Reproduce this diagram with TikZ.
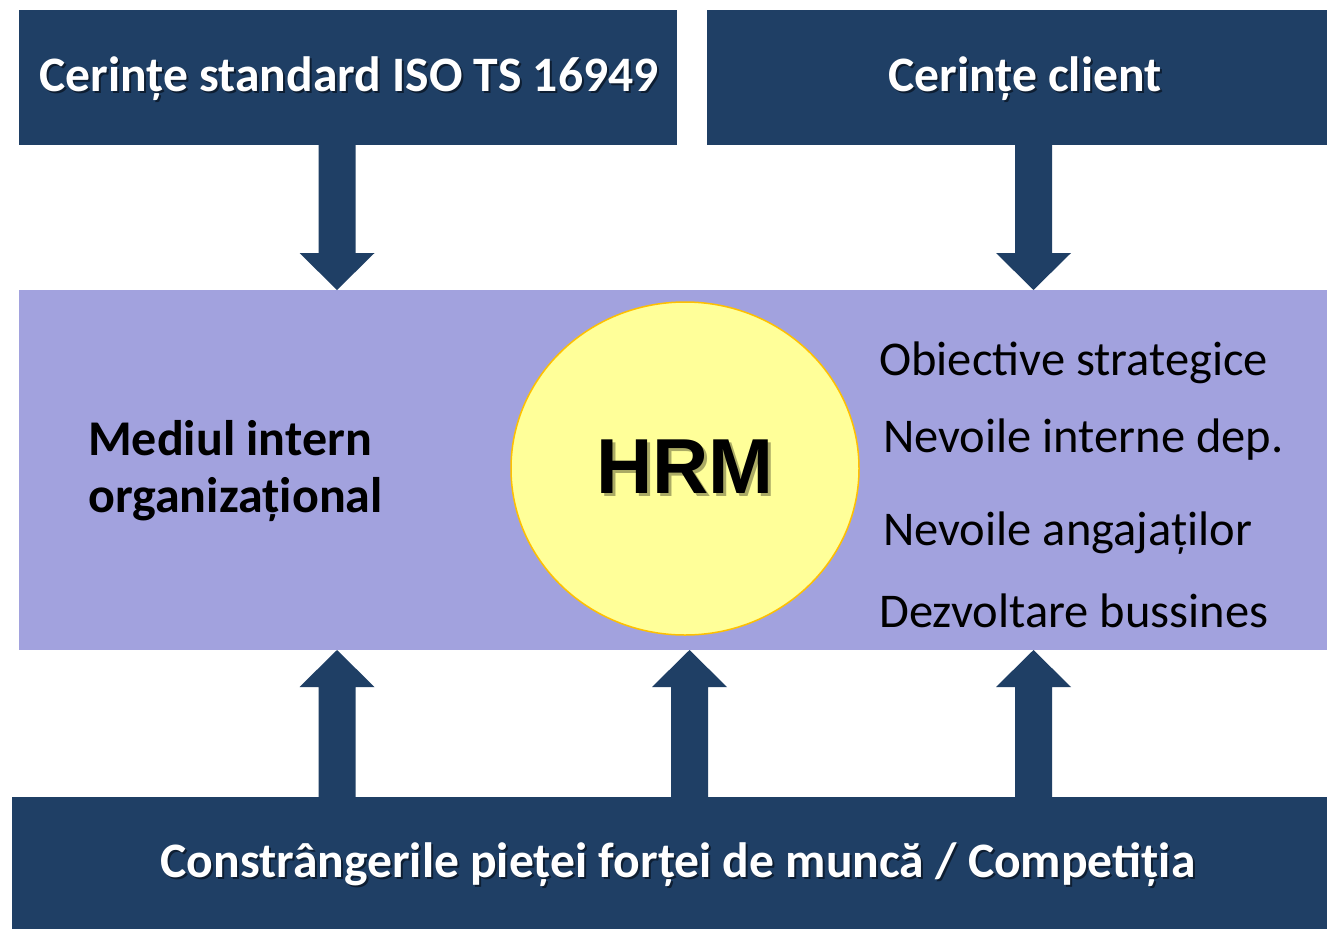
\documentclass[tikz,border=0pt]{standalone}
\usepackage{fontspec}
\setmainfont{Carlito}
\newfontfamily\arialf{Liberation Sans}
\usetikzlibrary{calc,shapes.geometric}
\definecolor{navy}{RGB}{31,63,101}
\definecolor{lav}{RGB}{162,162,222}
\definecolor{lyellow}{RGB}{255,255,153}
\definecolor{gold}{RGB}{255,192,0}
\definecolor{navyshadow}{RGB}{14,30,50}
\definecolor{yshadow}{RGB}{170,170,100}
\newcommand{\shtext}[3]{\rlap{\hspace{#3}\raisebox{-#3}{\color{#2}#1}}#1}
\tikzset{
  whitetxt/.style={text=white, font=\fontsize{49.6}{56}\selectfont\bfseries, inner sep=0pt},
  righttxt/.style={anchor=base west, font=\fontsize{48.5}{54}\selectfont, inner sep=0pt},
  blockarrow/.style={fill=navy, draw=none},
}
\newcommand{\downarrowblk}[2]{%
  \fill[blockarrow] ($(#1)+(-18.5,0)$) -- ($(#2)+(-18.5,-37)$) -- ($(#2)+(-37.5,-37)$) -- (#2) -- ($(#2)+(37.5,-37)$) -- ($(#2)+(18.5,-37)$) -- ($(#1)+(18.5,0)$) -- cycle;}
\newcommand{\uparrowblk}[2]{%
  \fill[blockarrow] ($(#1)+(-18.5,0)$) -- ($(#2)+(-18.5,37)$) -- ($(#2)+(-37.5,37)$) -- (#2) -- ($(#2)+(37.5,37)$) -- ($(#2)+(18.5,37)$) -- ($(#1)+(18.5,0)$) -- cycle;}
\begin{document}
\begin{tikzpicture}[x=1pt,y=-1pt]
\useasboundingbox (0,0) rectangle (1327,929);
\fill[white] (0,0) rectangle (1327,929);
% boxes
\fill[navy] (19,10) rectangle (677,145);
\fill[navy] (707,10) rectangle (1327,145);
\fill[lav] (19,290) rectangle (1327,650);
\fill[navy] (12,797) rectangle (1327,929);
% texts on navy
\node[whitetxt] (tA) at (349,80) {\shtext{Cerințe standard ISO TS 16949}{navyshadow}{2pt}};
\node[whitetxt] (tB) at (1025,80) {\shtext{Cerințe client}{navyshadow}{2pt}};
\node[whitetxt] (tC) at (678,866) {\shtext{Constrângerile pieței forței de muncă / Competiția}{navyshadow}{2pt}};
% arrows
\coordinate (d1s) at (337,145); \coordinate (d1e) at (337,290);
\coordinate (d2s) at (1033.5,145); \coordinate (d2e) at (1033.5,290);
\coordinate (u1s) at (337,797); \coordinate (u1e) at (337,650);
\coordinate (u2s) at (689.5,797); \coordinate (u2e) at (689.5,650);
\coordinate (u3s) at (1033.5,797); \coordinate (u3e) at (1033.5,650);
\downarrowblk{d1s}{d1e}
\downarrowblk{d2s}{d2e}
\uparrowblk{u1s}{u1e}
\uparrowblk{u2s}{u2e}
\uparrowblk{u3s}{u3e}
% circle
\node[ellipse, fill=lyellow, draw=gold, line width=1.5pt, minimum width=348pt, minimum height=333pt, inner sep=0pt] (hrm) at (685,468.5) {};
\node[font=\arialf\fontsize{78}{80}\selectfont\bfseries, inner sep=0pt] (hrmt) at (hrm) {\shtext{HRM}{yshadow}{3pt}};
% left text
\node[anchor=base west, font=\fontsize{50}{57}\selectfont\bfseries, inner sep=0pt, align=left] (med) at (88,512) {Mediul intern\\organizațional};
% right texts
\node[righttxt] (r1) at (879,375) {Obiective strategice};
\node[righttxt] (r2) at (883,452) {Nevoile interne dep.};
\node[righttxt] (r3) at (883,545) {Nevoile angajaților};
\node[righttxt] (r4) at (879,627) {Dezvoltare bussines};
\end{tikzpicture}
\end{document}
